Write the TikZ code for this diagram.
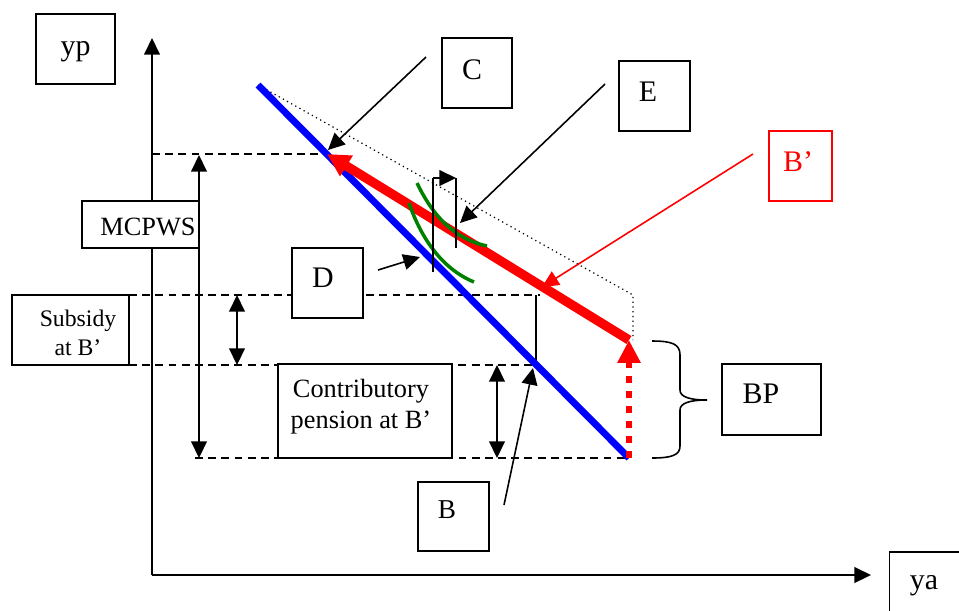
\documentclass[tikz,border=0pt]{standalone}
\usepackage{fontspec}
\setmainfont{Liberation Serif}
\usetikzlibrary{arrows.meta}
\definecolor{icgreen}{RGB}{0,128,0}
\def\fsz#1#2{\fontsize{#1}{#2}\selectfont}

\begin{document}
\begin{tikzpicture}[x=0.02cm, y=-0.02cm, font=\fsz{17}{20},
    box/.style={draw, fill=white, line width=0.7pt, inner sep=0pt},
    guide/.style={line width=0.8pt, dash pattern=on 4.5pt off 3pt},
    tip/.style={line width=0.9pt, -{Triangle[length=9.5pt,width=9pt]}},
    dtip/.style={line width=0.9pt, {Triangle[length=9.5pt,width=9pt]}-{Triangle[length=9.5pt,width=9pt]}}]
		%%%%% START %%%%%
		\useasboundingbox (0,0) rectangle (959,610);
		
		% axes
		\coordinate (O) at (152,575);
		\coordinate (ytop) at (152,38);
		\coordinate (xend) at (871,575);
		\draw[tip] (O) -- (ytop);
		\draw[tip] (O) -- (xend);
		
		% points on the budget lines
		\coordinate (A) at (258,85);
		\coordinate (C) at (327,154);
		\coordinate (Bp) at (629,340);
		\coordinate (Bb) at (629,458);
		\coordinate (B) at (536,365);
		\coordinate (Bs) at (536,295);
		
		% guide lines
		\draw[guide] (152,154) -- (C);
		\draw[guide] (129,295) -- (540,295);
		\draw[guide] (129,365) -- (B);
		\draw[guide] (195,458) -- (Bb);
		\draw[line width=0.8pt] (Bs) -- (B);
		\draw[dotted, line width=0.7pt] (A) -- (633,295) -- (633,340);
		
		% boxes
		\node[box, minimum width=1.58cm, minimum height=1.4cm,
		      label={[name=yplab, yshift=-0.06cm]center:yp}] (yp) at (75.5,49) {};
		\node[box, minimum width=1.5cm, minimum height=1.26cm,
		      label={[name=yalab, xshift=-0.06cm, yshift=-0.04cm]center:ya}] (ya) at (927,583.5) {};
		\node[box, minimum width=2.34cm, minimum height=0.94cm,
		      label={[name=mclab, font=\fsz{15}{17}, xshift=0.15cm, yshift=-0.05cm]center:MCPWS}] (mcpws) at (140.5,224.5) {};
		\node[box, minimum width=2.34cm, minimum height=1.4cm,
		      label={[name=sublab, font=\fsz{13.5}{16.5}, align=center, xshift=0.15cm, yshift=-0.06cm]center:Subsidy\\at B’}] (sub) at (70.5,330) {};
		\node[box, minimum width=3.48cm, minimum height=1.88cm,
		      label={[name=cplab, font=\fsz{15}{17.5}, align=center, xshift=-0.08cm, yshift=0.08cm]center:Contributory\\pension at B’}] (cp) at (365,411) {};
		\node[box, minimum width=1.42cm, minimum height=1.4cm,
		      label={[name=Dlab, xshift=-0.09cm, yshift=0.1cm]center:D}] (D) at (327.5,283) {};
		\node[box, minimum width=1.4cm, minimum height=1.4cm,
		      label={[name=Clab, xshift=-0.1cm, yshift=0.06cm]center:C}] (Cb) at (477,73) {};
		\node[box, minimum width=1.42cm, minimum height=1.4cm,
		      label={[name=Elab, xshift=-0.13cm, yshift=0.08cm]center:E}] (Eb) at (654.5,96) {};
		\node[box, draw=red, minimum width=1.26cm, minimum height=1.4cm,
		      label={[name=Bplab, text=red, xshift=-0.05cm, yshift=0.08cm]center:B’}] (Bpb) at (800.5,166) {};
		\node[box, minimum width=1.42cm, minimum height=1.38cm,
		      label={[name=Blab, font=\fsz{15.5}{18}, xshift=-0.13cm, yshift=0.13cm]center:B}] (Bbox) at (453.5,516.5) {};
		\node[box, minimum width=1.98cm, minimum height=1.42cm,
		      label={[name=BPlab, xshift=-0.21cm, yshift=0.11cm]center:BP}] (BP) at (771.5,399.5) {};
		
		% heights
		\draw[dtip] (199,155) -- (199,458);
		\draw[dtip] (237,295) -- (237,365);
		\draw[dtip] (497,365) -- (497,458);
		
		% budget lines
		\draw[blue, line width=3.9pt] (A) -- (Bb);
		\draw[red, line width=3.6pt, dash pattern=on 4pt off 4.5pt,
		      -{Triangle[length=13pt,width=12.5pt]}] (Bb) -- (Bp);
		\draw[red, line width=5.3pt, -{Triangle[length=13pt,width=13pt]}] (Bp) -- (C);
		
		% indifference curves
		\draw[icgreen, line width=2pt] (417,183) .. controls (430,210) and (450,238) .. (487,246);
		\draw[icgreen, line width=2pt] (409,203) .. controls (420,235) and (440,268) .. (474,282);
		\draw[line width=1pt] (433,272) -- (433,178);
		\draw[tip] (433,178) -- (456,178);
		\draw[line width=1pt] (456,178) -- (456,248);
		
		% call-outs
		\coordinate (Cfrom) at (426,57);
		\coordinate (Cto) at (328,150);
		\coordinate (Efrom) at (605,84);
		\coordinate (Eto) at (460,223);
		\coordinate (Dfrom) at (378,270);
		\coordinate (Dto) at (420,257);
		\coordinate (Bpfrom) at (753,154);
		\coordinate (Bpto) at (542,287);
		\coordinate (Bfrom) at (504,505);
		\coordinate (Bto) at (533,368);
		\draw[tip] (Cfrom) -- (Cto);
		\draw[tip] (Efrom) -- (Eto);
		\draw[tip] (Dfrom) -- (Dto);
		\draw[tip, red] (Bpfrom) -- (Bpto);
		\draw[tip] (Bfrom) -- (Bto);
		
		% brace
		\draw[line width=0.9pt] (652,341) .. controls (672,341) and (680,344) .. (680,355) -- (680,390)
		  .. controls (680,397) and (690,400) .. (707,400)
		  .. controls (690,400) and (680,403) .. (680,410) -- (680,446)
		  .. controls (680,455) and (672,458) .. (652,458);
		
		%%%%% END %%%%%
\end{tikzpicture}
\end{document}
